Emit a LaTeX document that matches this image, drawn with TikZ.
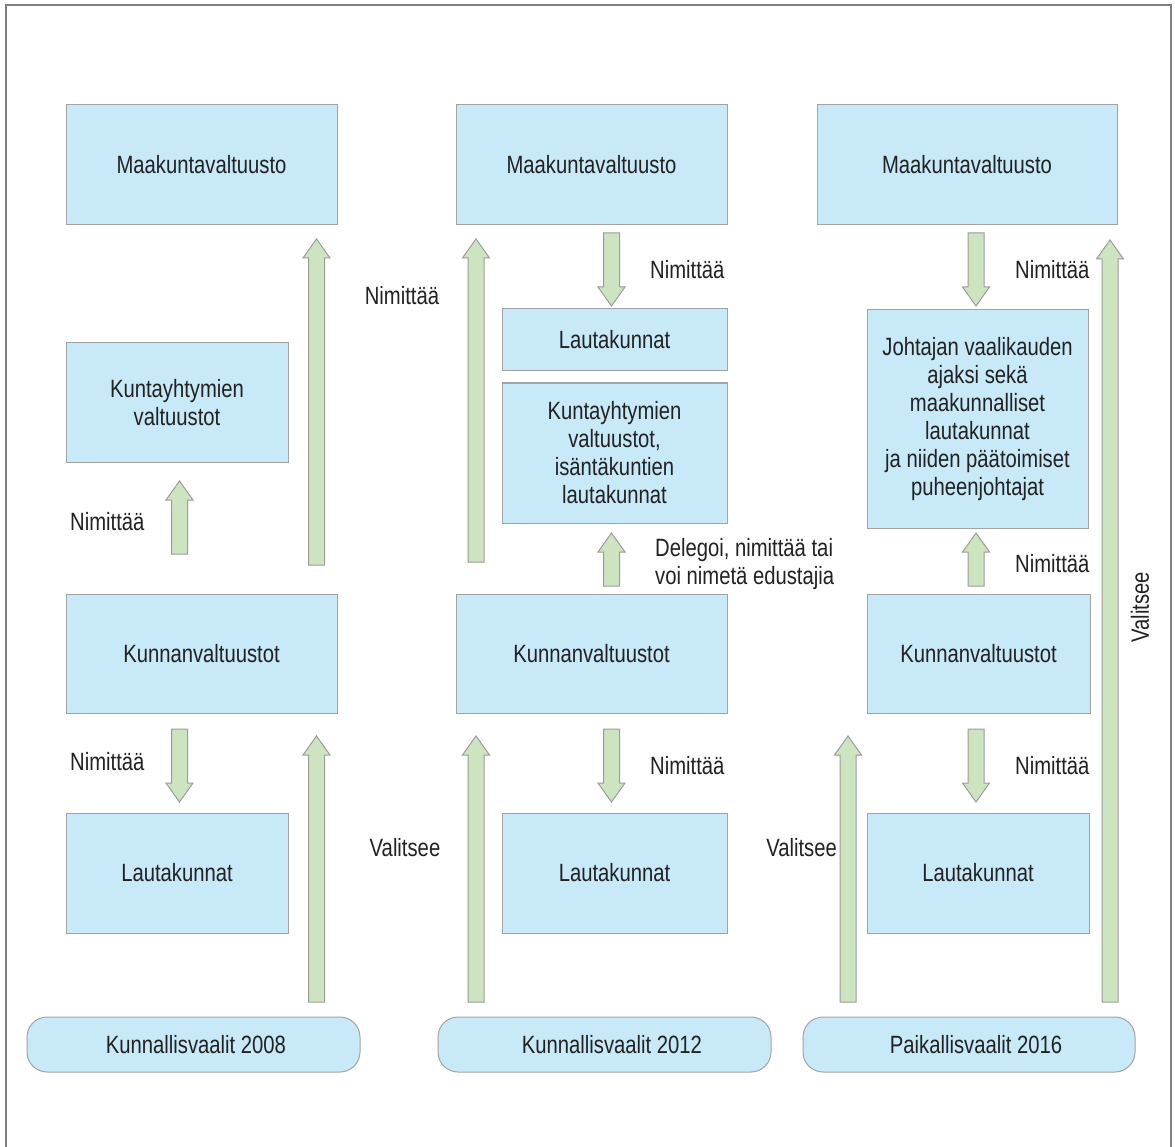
\documentclass[tikz,border=0pt]{standalone}
\usepackage{fontspec}
\setmainfont{Liberation Sans}[FakeStretch=0.81]
\definecolor{boxblue}{HTML}{C7E9F8}
\definecolor{boxline}{HTML}{A3A3A3}
\definecolor{arrgreen}{HTML}{CDE4C0}
\definecolor{arrline}{HTML}{9C9C9C}
\definecolor{ink}{HTML}{222222}
\definecolor{framegray}{HTML}{808080}
% block arrow: centre x, tail y, tip y, direction (+1 up, -1 down)
\newcommand{\blockarr}[4]{%
  \draw[blockarrow] ({#1-8},{#2}) -- ({#1-8},{#3+19*(#4)}) -- ({#1-13.5},{#3+19*(#4)})
    -- ({#1},{#3}) -- ({#1+13.5},{#3+19*(#4)}) -- ({#1+8},{#3+19*(#4)}) -- ({#1+8},{#2}) -- cycle;}
% organisation box: name, left, right, top, bottom, text
\newcommand{\orgrect}[6]{%
  \draw[orgbox] (#2,#4) rectangle (#3,#5);
  \node[align=center] (#1) at ({(#2+#3)/2},{(#4+#5)/2}) {#6};}
\begin{document}
\begin{tikzpicture}[x=1pt,y=-1pt,
  every node/.style={font=\fontsize{25}{28}\selectfont, text=ink, inner sep=0pt},
  orgbox/.style={draw=boxline, fill=boxblue, line width=1pt},
  pill/.style={draw=boxline, fill=boxblue, line width=1pt, rounded corners=20pt},
  blockarrow/.style={draw=arrline, fill=arrgreen, line width=1pt, line join=miter},
  lbl/.style={anchor=west, align=left}]
\useasboundingbox (0,0) rectangle (1175,1147);
\fill[white] (0,0) rectangle (1175,1147);
\draw[framegray, line width=2pt] (5.5,5) rectangle (1171,1160);

% column 1
\orgrect{mk1}{66}{337}{105}{225}{Maakuntavaltuusto}
\orgrect{ky1}{66}{288}{343}{462}{Kuntayhtymien\\valtuustot}
\orgrect{kv1}{66}{337}{594}{713}{Kunnanvaltuustot}
\orgrect{lk1}{66}{288}{813}{933}{Lautakunnat}
% column 2
\orgrect{mk2}{456}{727}{105}{225}{Maakuntavaltuusto}
\orgrect{lka2}{502}{727}{309}{371}{Lautakunnat}
\orgrect{ky2}{502}{727}{383}{523}{Kuntayhtymien\\valtuustot,\\isäntäkuntien\\lautakunnat}
\orgrect{kv2}{456}{727}{594}{713}{Kunnanvaltuustot}
\orgrect{lk2}{502}{727}{813}{933}{Lautakunnat}
% column 3
\orgrect{mk3}{817}{1117}{105}{225}{Maakuntavaltuusto}
\orgrect{jo3}{867}{1088}{310}{528}{Johtajan vaalikauden\\ajaksi sekä\\maakunnalliset\\lautakunnat\\ja niiden päätoimiset\\puheenjohtajat}
\orgrect{kv3}{867}{1090}{594}{713}{Kunnanvaltuustot}
\orgrect{lk3}{867}{1089}{813}{933}{Lautakunnat}

% election pills
\draw[pill] (27,1017) rectangle (360,1072);
\node (va1) at (196,1044.5) {Kunnallisvaalit 2008};
\draw[pill] (438,1017) rectangle (771,1072);
\node (va2) at (612,1044.5) {Kunnallisvaalit 2012};
\draw[pill] (803,1017) rectangle (1135,1072);
\node (va3) at (976,1044.5) {Paikallisvaalit 2016};

% block arrows, column 1
\blockarr{316.5}{565}{239}{1}
\blockarr{179.5}{554}{481}{1}
\blockarr{179.5}{729}{802}{-1}
\blockarr{316.5}{1002}{736}{1}
% column 2
\blockarr{476}{562}{239}{1}
\blockarr{611.5}{233}{306}{-1}
\blockarr{611.5}{586}{533}{1}
\blockarr{611.5}{729}{802}{-1}
\blockarr{476}{1002}{736}{1}
% column 3
\blockarr{976}{233}{306}{-1}
\blockarr{976}{586}{533}{1}
\blockarr{976}{729}{802}{-1}
\blockarr{848}{1002}{736}{1}
\blockarr{1110}{1002}{240}{1}

% labels
\node[lbl] (n1a) at (70,522) {Nimittää};
\node[lbl] (n1b) at (70,762) {Nimittää};
\node (n2a) at (402,296) {Nimittää};
\node (v2) at (405,848) {Valitsee};
\node[lbl] (n2b) at (650,270) {Nimittää};
\node[lbl] (d2) at (655,564) {Delegoi, nimittää tai\\voi nimetä edustajia};
\node[lbl] (n2c) at (650,766) {Nimittää};
\node[lbl] (n3a) at (1015,270) {Nimittää};
\node[lbl] (n3b) at (1015,564) {Nimittää};
\node[lbl] (n3c) at (1015,766) {Nimittää};
\node[anchor=east] (v3) at (837,848) {Valitsee};
\node[rotate=90] (v3r) at (1140,607) {Valitsee};
\end{tikzpicture}
\end{document}
